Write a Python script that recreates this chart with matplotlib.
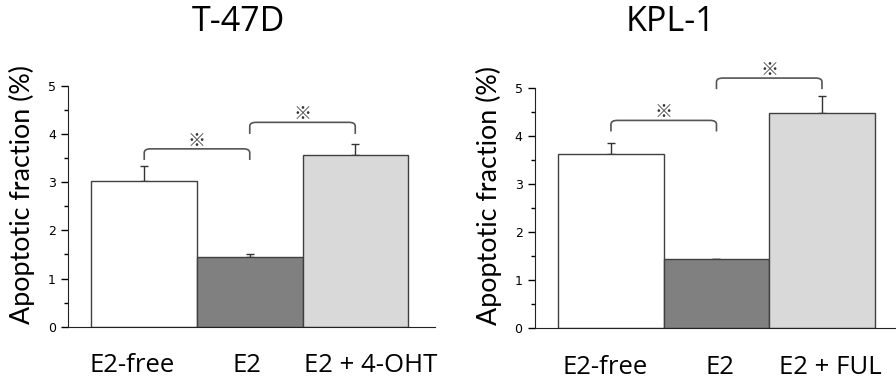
import numpy as np
import matplotlib.pyplot as plt
from matplotlib.path import Path
from matplotlib.patches import PathPatch

# data
labels_l = ['E2-free', 'E2', 'E2 + 4-OHT']
labels_r = ['E2-free', 'E2', 'E2 + FUL']
vals_l = [3.03, 1.45, 3.57]
err_l = [0.30, 0.06, 0.23]
vals_r = [3.63, 1.43, 4.48]
err_r = [0.23, 0.02, 0.35]
# brackets: (left bar, right bar, end height, top height)
br_l = [(0, 1, 3.46, 3.69), (1, 2, 4.00, 4.24)]
br_r = [(0, 1, 4.09, 4.32), (1, 2, 4.97, 5.20)]
colors = ['white', '#808080', '#d9d9d9']

fig = plt.figure(figsize=(8.96, 3.87), dpi=100)
ax1 = fig.add_axes([0.0762, 0.1558, 0.4092, 0.6227])
ax2 = fig.add_axes([0.5971, 0.1517, 0.4092, 0.6217])


def bracket(ax, x0, x1, ye, yt, r=0.06, ry=0.08):
    verts = [(x0, ye), (x0, yt - ry), (x0, yt), (x0 + r, yt),
             (x1 - r, yt), (x1, yt), (x1, yt - ry), (x1, ye)]
    codes = [Path.MOVETO, Path.LINETO, Path.CURVE3, Path.CURVE3,
             Path.LINETO, Path.CURVE3, Path.CURVE3, Path.LINETO]
    p = PathPatch(Path(verts, codes), fill=False, edgecolor='#555555', lw=1.2, clip_on=False)
    ax.add_patch(p)
    ax.text((x0 + x1) / 2, yt + 0.17, '※', ha='center', va='center', fontsize=13,
            family=['Noto Sans CJK JP', 'DejaVu Sans'], color='#333333', clip_on=False)


def panel(ax, vals, err, labels, lab_shift, brs):
    x = np.arange(len(vals))
    ax.bar(x, vals, width=1.0, color=colors, edgecolor='#404040', linewidth=1.0, zorder=2)
    ax.errorbar(x, vals, yerr=[np.zeros(len(err)), err], fmt='none', ecolor='#333333',
                elinewidth=1.0, capsize=3, capthick=1.0, zorder=1)
    for b in brs:
        bracket(ax, b[0], b[1], b[2], b[3])
    ax.set_xlim(-0.72, 2.755)
    ax.set_ylim(0, 5)
    ax.set_yticks(range(6))
    ax.set_yticks(np.arange(0.5, 5, 1), minor=True)
    ax.tick_params(axis='y', which='major', length=5, width=1, direction='out', pad=4,
                   labelsize=9)
    ax.tick_params(axis='y', which='minor', length=3, width=1, direction='out')
    for t in ax.get_yticklabels():
        t.set_family(['Liberation Sans Narrow', 'DejaVu Sans'])
    # labels sit a little off the bar centres in the original
    ax.set_xticks(x + np.array(lab_shift))
    ax.set_xticklabels(labels, fontsize=18.5, family=['Open Sans', 'DejaVu Sans'])
    ax.tick_params(axis='x', length=0, pad=19)
    ax.spines['top'].set_visible(False)
    ax.spines['right'].set_visible(False)
    ax.spines['left'].set_color('#222222')
    ax.spines['bottom'].set_color('#222222')
    ax.set_ylabel('Apoptotic fraction (%)', fontsize=19.4, family=['Lato', 'DejaVu Sans'])
    ax.yaxis.set_label_coords(-0.09, 0.55)


panel(ax1, vals_l, err_l, labels_l, [-0.116, -0.03, 0.15], br_l)
panel(ax2, vals_r, err_r, labels_r, [-0.055, 0.035, 0.08], br_r)

fig.text(238 / 896, 1 - 22 / 387, 'T-47D', ha='center', va='center', fontsize=24.5,
         family=['Open Sans', 'DejaVu Sans'])
fig.text(670 / 896, 1 - 22 / 387, 'KPL-1', ha='center', va='center', fontsize=24.5,
         family=['Open Sans', 'DejaVu Sans'])

fig.savefig('out.png', dpi=100)
